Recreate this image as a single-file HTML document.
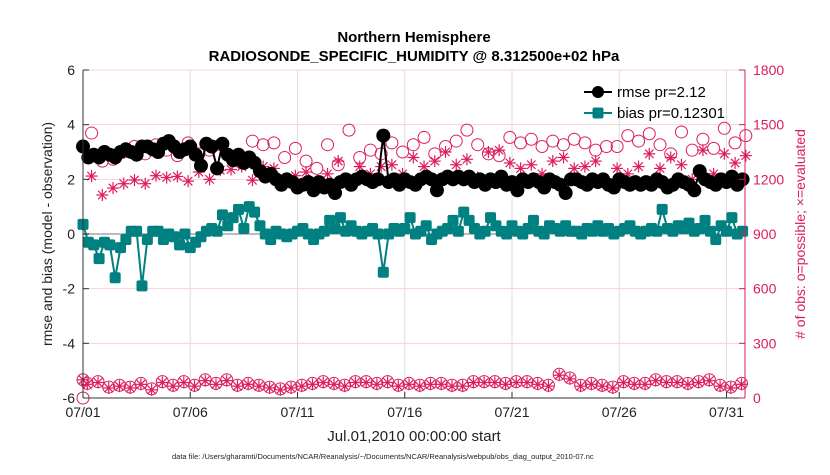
<!DOCTYPE html>
<html><head><meta charset="utf-8"><style>
body{margin:0;background:#fff;font-family:"Liberation Sans",sans-serif}
svg text{font-family:"Liberation Sans",sans-serif}
</style></head><body>
<svg id="c" width="830" height="470" xmlns="http://www.w3.org/2000/svg"></svg>
<script>
const rmse=[3.2,2.8,2.9,2.8,3.0,2.9,2.8,3.0,3.1,3.0,2.9,3.2,3.2,3.1,3.0,3.3,3.4,3.2,3.0,3.1,3.2,2.9,2.5,3.3,3.2,2.4,3.3,2.9,2.7,2.9,2.6,2.8,2.6,2.3,2.1,2.2,2.0,1.8,2.0,1.9,1.7,1.8,1.9,1.6,1.9,1.7,1.8,1.5,1.9,2.0,1.8,2.0,2.1,2.0,1.9,2.0,3.6,1.9,2.0,1.8,2.0,1.9,1.8,2.0,2.1,2.0,1.6,2.0,2.1,2.0,2.1,2.0,2.1,1.9,2.0,1.8,2.0,1.9,2.1,1.8,1.9,1.6,2.0,1.9,2.0,1.9,1.7,2.0,1.9,1.8,1.5,2.0,2.0,1.9,1.8,2.0,1.9,2.0,1.8,1.7,2.0,1.9,1.8,1.9,1.8,1.9,1.8,2.0,1.9,1.7,1.8,2.0,1.9,1.8,1.6,2.3,2.0,1.9,1.8,2.0,1.9,2.1,1.8,2.0];
const bias=[0.35,-0.3,-0.4,-0.9,-0.3,-0.4,-1.6,-0.5,-0.2,0.1,0.1,-1.9,-0.2,0.1,0.1,-0.2,0.0,-0.1,-0.4,0.0,-0.5,-0.3,-0.1,0.1,0.2,0.1,0.7,0.3,0.6,0.9,0.2,1.0,0.8,0.3,0.0,-0.2,0.1,0.0,-0.1,0.0,0.1,0.2,0.0,-0.2,0.0,0.1,0.5,0.2,0.6,0.1,0.3,0.1,0.0,0.1,0.2,0.0,-1.4,0.0,0.2,0.1,0.2,0.6,0.0,0.1,0.3,-0.2,0.0,0.1,0.2,0.5,0.1,0.8,0.5,0.2,0.0,0.1,0.6,0.3,0.1,0.0,0.3,0.1,0.0,0.2,0.5,0.1,0.0,0.3,0.2,0.1,0.3,0.1,0.1,0.0,0.2,0.1,0.3,0.1,0.2,0.0,0.1,0.2,0.3,0.1,0.0,0.1,0.2,0.1,0.9,0.2,0.1,0.3,0.2,0.4,0.1,0.2,0.5,0.1,-0.2,0.3,0.1,0.6,0.0,0.1];
const possible=[1454,1300,1310,1350,1380,1340,1390,1360,1330,1400,1340,1360,1390,1320,1290,1410,1390,1400,1320,1370,1300,1260,1390,1280,1470,1320,1360,1340,1400,1350,1390,1430,1340,1380,1410,1470,1390,1340,1330,1430,1400,1420,1380,1410,1390,1420,1400,1360,1380,1380,1440,1410,1450,1390,1340,1460,1360,1420,1370,1480,1400,1440];
const evaluated=[1218,1114,1152,1176,1196,1176,1220,1210,1216,1190,1240,1200,1250,1254,1270,1195,1270,1260,1200,1220,1240,1190,1230,1300,1200,1270,1230,1270,1280,1230,1320,1270,1300,1350,1280,1310,1210,1350,1360,1290,1260,1280,1230,1300,1320,1260,1270,1300,1180,1260,1230,1270,1340,1260,1320,1280,1200,1360,1230,1340,1290,1330];
const possibleLow=[100,80,90,60,70,60,80,50,90,70,90,70,100,80,100,70,80,70,60,50,60,70,80,90,80,70,90,90,80,90,70,80,70,80,80,70,70,90,90,90,80,90,90,80,70,130,110,70,80,70,60,90,80,80,100,90,90,80,90,100,70,60,80];
const evaluatedLow=[100,75,85,55,65,55,75,45,85,65,85,65,95,75,95,65,75,65,55,45,55,65,75,85,75,65,85,85,75,85,65,75,65,75,75,65,65,85,85,85,75,85,85,75,65,125,105,65,75,65,55,85,75,75,95,85,85,75,85,95,65,55,75];
const xTicks=["07/01","07/06","07/11","07/16","07/21","07/26","07/31"];
const yTicks=[-6,-4,-2,0,2,4,6];
const y2Ticks=[0,300,600,900,1200,1500,1800];

const NS="http://www.w3.org/2000/svg",svg=document.getElementById('c');
const L=83,R=745,T=70,B=398,dayPx=21.45;
const X=d=>L+d*dayPx, Y=v=>B-(v+6)/12*(B-T), Y2=v=>B-v/1800*(B-T);
const CR="#dc1d5d",TE="#008080";
function el(tag,a,p){const e=document.createElementNS(NS,tag);for(const k in a)e.setAttribute(k,a[k]);(p||svg).appendChild(e);return e;}
function tx(s,a){const e=el('text',a);e.textContent=s;return e;}

const grid=el('g',{});
xTicks.forEach((t,i)=>{el('line',{x1:X(i*5),x2:X(i*5),y1:T,y2:B,stroke:'#ddd','stroke-width':1},grid);});
y2Ticks.forEach(v=>{el('line',{x1:L,x2:R,y1:Y2(v),y2:Y2(v),stroke:'#f6d2de','stroke-width':1},grid);});
el('line',{x1:L,x2:R,y1:Y(0),y2:Y(0),stroke:'#bbb','stroke-width':2},grid);

// obs markers
const obs=el('g',{});
possible.forEach((v,i)=>{const c=el('circle',{cx:X(0.4+0.5*i),cy:Y2(v),r:6,fill:'none',stroke:CR,'stroke-width':1},obs);});
function star(x,y,g){for(let k=0;k<4;k++){const a=k*Math.PI/4;el('line',{x1:x-6*Math.cos(a),y1:y-6*Math.sin(a),x2:x+6*Math.cos(a),y2:y+6*Math.sin(a),stroke:CR,'stroke-width':1.2},g);}}
evaluated.forEach((v,i)=>star(X(0.4+0.5*i),Y2(v),obs));
possibleLow.forEach((v,i)=>{const d=i===0?0:0.2+0.5*(i-1);el('circle',{cx:X(d),cy:Y2(v),r:6,fill:'none',stroke:CR,'stroke-width':1},obs);star(X(d),Y2(evaluatedLow[i]),obs);});
el('circle',{cx:X(0),cy:Y2(0),r:6,fill:'none',stroke:CR},obs);

// rmse
const rg=el('g',{});
el('polyline',{points:rmse.map((v,i)=>X(i*0.25)+','+Y(v)).join(' '),fill:'none',stroke:'#000','stroke-width':2},rg);
rmse.forEach((v,i)=>el('circle',{cx:X(i*0.25),cy:Y(v),r:7,fill:'#000'},rg));
// bias
const bg=el('g',{});
el('polyline',{points:bias.map((v,i)=>X(i*0.25)+','+Y(v)).join(' '),fill:'none',stroke:TE,'stroke-width':2},bg);
bias.forEach((v,i)=>el('rect',{x:X(i*0.25)-5.5,y:Y(v)-5.5,width:11,height:11,rx:2,fill:TE},bg));

// axes
el('line',{x1:L,x2:L,y1:T,y2:B,stroke:'#333','stroke-width':1});
el('line',{x1:L,x2:R,y1:B,y2:B,stroke:'#333','stroke-width':1});
el('line',{x1:R,x2:R,y1:T,y2:B,stroke:CR,'stroke-width':1});
xTicks.forEach((t,i)=>{el('line',{x1:X(i*5),x2:X(i*5),y1:B,y2:B-6,stroke:'#333'});const e=tx(t,{x:X(i*5),y:B+19,'font-size':14,'text-anchor':'middle',fill:'#222'});});
yTicks.forEach(v=>{el('line',{x1:L,x2:L+6,y1:Y(v),y2:Y(v),stroke:'#333'});const e=tx(String(v),{x:L-8,y:Y(v)+5,'font-size':14,'text-anchor':'end',fill:'#222'});});
y2Ticks.forEach(v=>{el('line',{x1:R,x2:R-6,y1:Y2(v),y2:Y2(v),stroke:CR});const e=tx(String(v),{x:R+8,y:Y2(v)+5,'font-size':14,fill:CR});});
</script>
<svg width="830" height="470" style="position:absolute;left:0;top:0" xmlns="http://www.w3.org/2000/svg">
<text x="414" y="42" font-size="15" font-weight="bold" text-anchor="middle">Northern Hemisphere</text>
<text x="414" y="61" font-size="15" font-weight="bold" text-anchor="middle">RADIOSONDE_SPECIFIC_HUMIDITY @ 8.312500e+02 hPa</text>
<text x="414" y="441" font-size="15" text-anchor="middle" fill="#222">Jul.01,2010 00:00:00 start</text>
<text transform="translate(52,234) rotate(-90)" font-size="14" text-anchor="middle" fill="#222">rmse and bias (model - observation)</text>
<text transform="translate(805,234) rotate(-90)" font-size="14" text-anchor="middle" fill="#dc1d5d"># of obs: o=possible; ×=evaluated</text>
<text x="172" y="459" font-size="7.5" fill="#222">data file: /Users/gharamti/Documents/NCAR/Reanalysis/~/Documents/NCAR/Reanalysis/webpub/obs_diag_output_2010-07.nc</text>
<g>
<line x1="584" x2="612" y1="92" y2="92" stroke="#000" stroke-width="2"/><circle cx="598" cy="92" r="6" fill="#000"/>
<text x="617" y="97" font-size="15">rmse pr=2.12</text>
<line x1="584" x2="612" y1="113" y2="113" stroke="#008080" stroke-width="2"/><rect x="592.5" y="107.5" width="11" height="11" rx="2" fill="#008080"/>
<text x="617" y="118" font-size="15">bias pr=0.12301</text>
</g>
</svg>
</body></html>
